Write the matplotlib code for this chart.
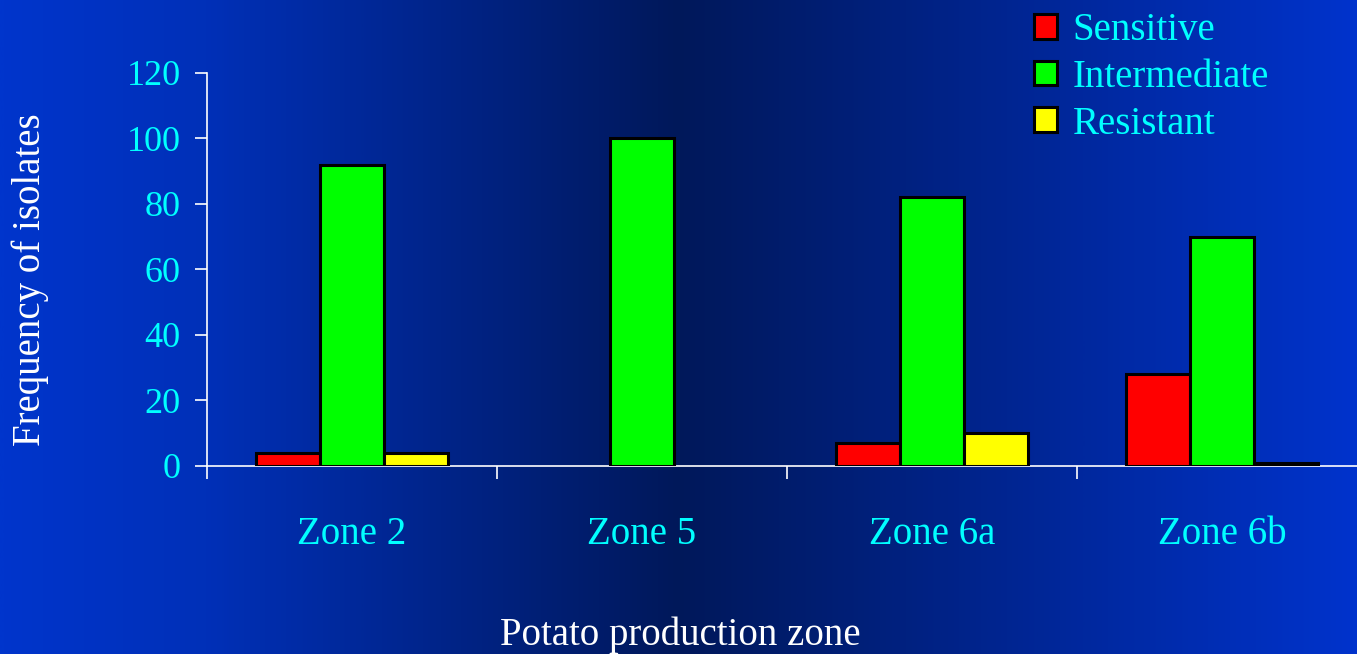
import numpy as np
import matplotlib.pyplot as plt
from matplotlib.colors import LinearSegmentedColormap

zones = ["Zone 2", "Zone 5", "Zone 6a", "Zone 6b"]
sensitive = [4, 0, 7, 28]
intermediate = [92, 100, 82, 70]
resistant = [4, 0, 10, 1]

series = [("Sensitive", sensitive, "#ff0000"),
          ("Intermediate", intermediate, "#00ff00"),
          ("Resistant", resistant, "#ffff00")]

plt.rcParams['font.family'] = ['Liberation Serif', 'DejaVu Serif']

fig = plt.figure(figsize=(13.57, 6.54), dpi=100)

# horizontal blue gradient, darkest just left of centre
bg = fig.add_axes([0, 0, 1, 1], zorder=-10)
cmap = LinearSegmentedColormap.from_list(
    "slide", [(0.0, "#0035cc"), (0.15, "#0030b8"), (0.5, "#00185a"),
              (0.8, "#00289e"), (1.0, "#0033cc")])
bg.imshow(np.linspace(0, 1, 512)[None, :], aspect="auto", cmap=cmap,
          extent=[0, 1, 0, 1])
bg.axis("off")

ax = fig.add_axes([0.1525, 0.2875, 0.855, 0.601])
ax.patch.set_alpha(0)

x = np.arange(len(zones)) + 0.5
w = 0.22
for i, (name, vals, col) in enumerate(series):
    # no outline on empty bars
    lw = [2.2 if v > 0 else 0 for v in vals]
    ax.bar(x + (i - 1) * w, vals, w, color=col, edgecolor="black",
           linewidth=lw, label=name, zorder=3)

ax.set_xlim(0, 4)
ax.set_ylim(0, 120)
ax.set_yticks(range(0, 121, 20))
ax.set_xticks(range(0, 5))
ax.set_xticklabels([])
ax.set_xticks(x, minor=True)
ax.set_xticklabels(zones, minor=True)

for s in ["top", "right"]:
    ax.spines[s].set_visible(False)
for s in ["left", "bottom"]:
    ax.spines[s].set_color("white")
    ax.spines[s].set_linewidth(1.2)

ax.tick_params(axis="y", colors="white", labelcolor="#00ffff",
               labelsize=26, length=9, width=1.2, pad=10)
ax.tick_params(axis="x", which="major", colors="white", length=9, width=1.2)
ax.tick_params(axis="x", which="minor", length=0, labelcolor="#00ffff",
               labelsize=28, pad=36)

fig.text(0.022, 0.572, "Frequency of isolates", rotation=90, color="white",
         fontsize=28, ha="center", va="center")
fig.text(0.501, 0.029, "Potato production zone", color="white",
         fontsize=28, ha="center", va="center")

leg = fig.legend(loc="upper left", bbox_to_anchor=(0.736, 1.035),
                 frameon=False, fontsize=28, handlelength=0.6,
                 handleheight=0.6, handletextpad=0.4, labelspacing=0.25)
for t in leg.get_texts():
    t.set_color("#00ffff")

fig.savefig("out.png", dpi=100)
